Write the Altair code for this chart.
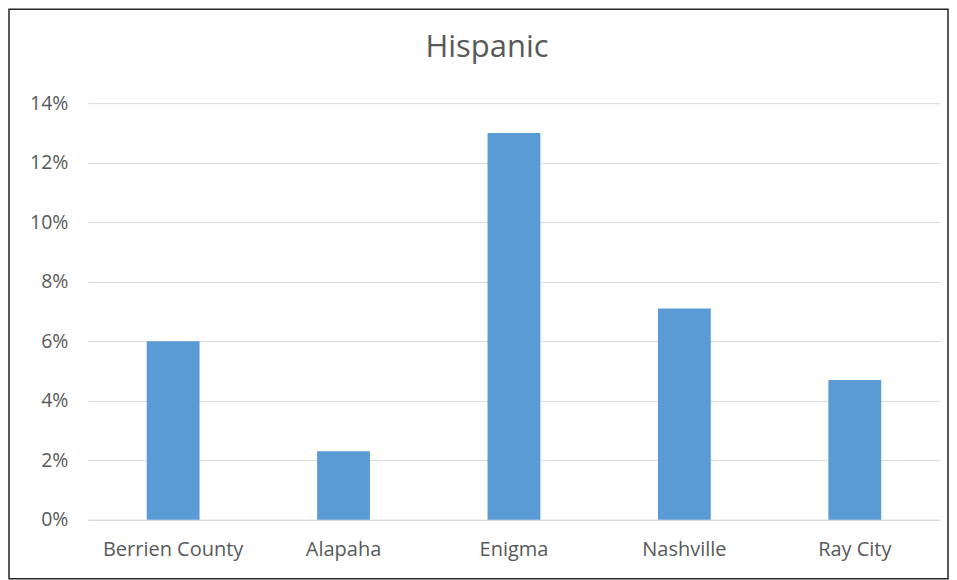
import altair as alt
import pandas as pd

places = ["Berrien County", "Alapaha", "Enigma", "Nashville", "Ray City"]
hispanic = [0.060, 0.023, 0.130, 0.071, 0.047]
y_ticks = [0, 0.02, 0.04, 0.06, 0.08, 0.10, 0.12, 0.14]

df = pd.DataFrame({"place": places, "share": hispanic})

W, H = 853, 417
FONT = "Open Sans"
TXT = "#595959"

bars = alt.Chart(df).mark_bar(color="#5b9bd5").encode(
    x=alt.X("place:N", sort=places, title=None,
            scale=alt.Scale(paddingInner=0.69, paddingOuter=0.345),
            axis=alt.Axis(labelAngle=0, ticks=False, domainColor="#d9d9d9",
                          labelPadding=20, labelFontSize=20, labelColor=TXT,
                          labelFont=FONT, grid=False)),
    y=alt.Y("share:Q", title=None,
            scale=alt.Scale(domain=[0, 0.14], nice=False),
            axis=alt.Axis(values=y_ticks, format=".0%", ticks=False, domain=False,
                          gridColor="#d9d9d9", labelPadding=20, labelFontSize=19.5,
                          labelColor=TXT, labelFont=FONT)),
)

frame = alt.Chart(pd.DataFrame({"k": [0]})).mark_rect(
    fillOpacity=0, stroke="#262626", strokeWidth=1.5
).encode(
    x=alt.value(-79), x2=alt.value(861), y=alt.value(-94), y2=alt.value(476)
)

chart = alt.layer(bars, frame).properties(
    width=W, height=H, padding=0,
    title=alt.TitleParams("Hispanic", fontSize=31, fontWeight="normal",
                          color=TXT, font=FONT, anchor="middle", offset=-79,
                          dx=-27, baseline="alphabetic"),
).configure(background="white").configure_view(strokeWidth=0)

chart.save("out.html", embed_options={"renderer": "svg", "actions": False})
